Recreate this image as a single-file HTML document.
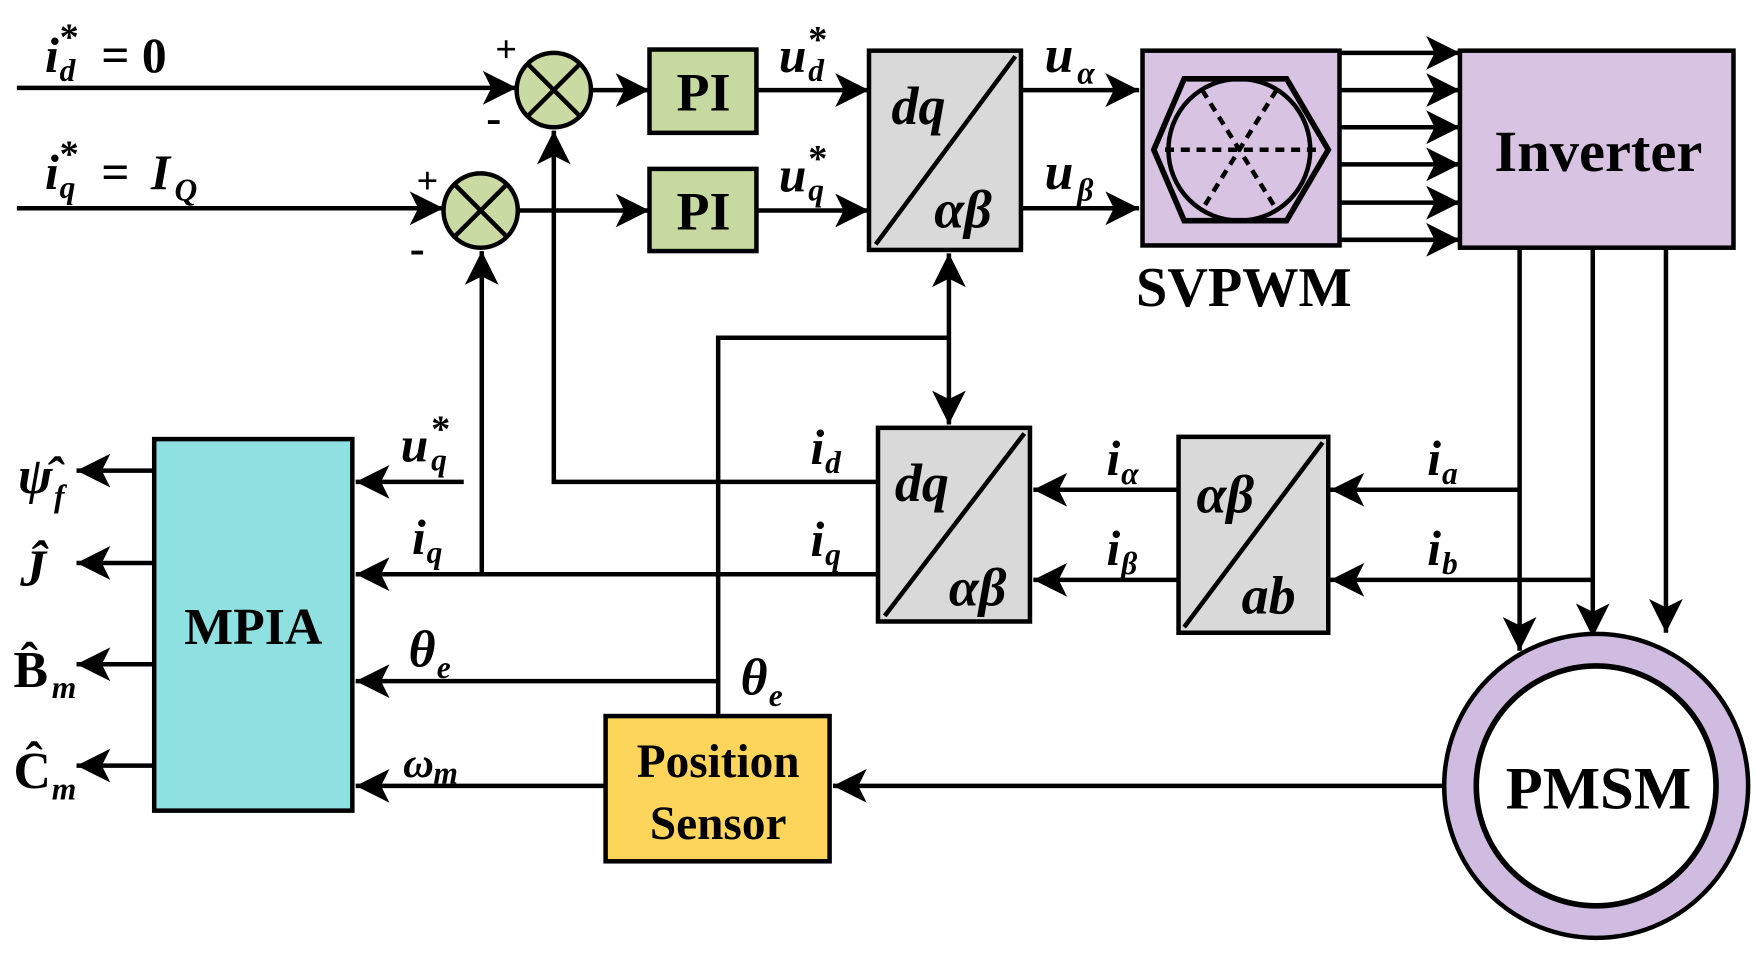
<!DOCTYPE html>
<html><head><meta charset="utf-8">
<style>
html,body{margin:0;padding:0;background:#fff;}
svg{display:block;}
text{font-family:"Liberation Serif",serif;font-weight:bold;fill:#000;}
.it{font-style:italic;}
</style></head>
<body>
<svg width="1756" height="957" viewBox="0 0 1560 850" preserveAspectRatio="none" xmlns="http://www.w3.org/2000/svg">
<defs>
<marker id="ar" viewBox="0 0 10 10" refX="10" refY="5" markerWidth="9" markerHeight="7.5" markerUnits="strokeWidth" orient="auto-start-reverse">
<path d="M0,0 L10,5 L0,10 L2.5,5 z" fill="#000"/>
</marker>
</defs>
<g stroke="#000" stroke-width="4" fill="none">
<line x1="15" y1="78" x2="459" y2="78" marker-end="url(#ar)"/>
<line x1="15" y1="185" x2="394" y2="185" marker-end="url(#ar)"/>
<circle cx="492" cy="80" r="33" fill="#c9dba3"/>
<line x1="469" y1="57" x2="515" y2="103"/><line x1="515" y1="57" x2="469" y2="103"/>
<circle cx="427" cy="187" r="33" fill="#c9dba3"/>
<line x1="404" y1="164" x2="450" y2="210"/><line x1="450" y1="164" x2="404" y2="210"/>
<line x1="525" y1="80" x2="577" y2="80" marker-end="url(#ar)"/>
<line x1="460" y1="187" x2="577" y2="187" marker-end="url(#ar)"/>
<rect x="577" y="44" width="95" height="74" fill="#c5d9a0"/>
<rect x="577" y="150" width="95" height="73" fill="#c5d9a0"/>
<line x1="672" y1="80" x2="772" y2="80" marker-end="url(#ar)"/>
<line x1="672" y1="187" x2="772" y2="187" marker-end="url(#ar)"/>
<rect x="772" y="45" width="135" height="177" fill="#d9d9d9"/>
<line x1="778" y1="217" x2="902" y2="50"/>
<line x1="907" y1="80" x2="1012" y2="80" marker-end="url(#ar)"/>
<line x1="907" y1="185" x2="1012" y2="185" marker-end="url(#ar)"/>
<rect x="1015" y="45" width="175" height="173" fill="#d8c4e2"/>
<polygon points="1052,70 1143,70 1180,133 1143,196 1052,196 1025,133" stroke-width="5"/>
<circle cx="1101" cy="133" r="63"/>
<g stroke-dasharray="8,6" stroke-width="4">
<line x1="1035" y1="133" x2="1170" y2="133"/>
<line x1="1068" y1="80" x2="1134" y2="186"/>
<line x1="1134" y1="80" x2="1068" y2="186"/>
</g>
<line x1="1190" y1="47" x2="1297" y2="47" marker-end="url(#ar)"/>
<line x1="1190" y1="80" x2="1297" y2="80" marker-end="url(#ar)"/>
<line x1="1190" y1="113" x2="1297" y2="113" marker-end="url(#ar)"/>
<line x1="1190" y1="146" x2="1297" y2="146" marker-end="url(#ar)"/>
<line x1="1190" y1="180" x2="1297" y2="180" marker-end="url(#ar)"/>
<line x1="1190" y1="213" x2="1297" y2="213" marker-end="url(#ar)"/>
<rect x="1297" y="45" width="243" height="175" fill="#d8c4e2"/>
<line x1="1350" y1="220" x2="1350" y2="578" marker-end="url(#ar)"/>
<line x1="1415" y1="220" x2="1415" y2="566" marker-end="url(#ar)"/>
<line x1="1480" y1="220" x2="1480" y2="562" marker-end="url(#ar)"/>
<circle cx="1418" cy="698" r="121" stroke="#000" stroke-width="32"/>
<circle cx="1418" cy="698" r="121" stroke="#d0bce0" stroke-width="24"/>
<circle cx="1418" cy="698" r="106" fill="#fff"/>
<line x1="1350" y1="435" x2="1182" y2="435" marker-end="url(#ar)"/>
<line x1="1415" y1="515" x2="1182" y2="515" marker-end="url(#ar)"/>
<rect x="1047" y="388" width="133" height="174" fill="#d9d9d9"/>
<line x1="1052" y1="557" x2="1175" y2="393"/>
<line x1="1047" y1="435" x2="918" y2="435" marker-end="url(#ar)"/>
<line x1="1047" y1="515" x2="918" y2="515" marker-end="url(#ar)"/>
<rect x="780" y="380" width="135" height="172" fill="#d9d9d9"/>
<line x1="786" y1="547" x2="910" y2="385"/>
<line x1="843" y1="225" x2="843" y2="377" marker-start="url(#ar)" marker-end="url(#ar)"/>
<polyline points="638,635 638,300 843,300"/>
<polyline points="780,428 492,428 492,116" marker-end="url(#ar)"/>
<line x1="780" y1="510" x2="316" y2="510" marker-end="url(#ar)"/>
<line x1="428" y1="510" x2="428" y2="223" marker-end="url(#ar)"/>
<line x1="412" y1="428" x2="316" y2="428" marker-end="url(#ar)"/>
<line x1="638" y1="605" x2="316" y2="605" marker-end="url(#ar)"/>
<line x1="538" y1="698" x2="316" y2="698" marker-end="url(#ar)"/>
<line x1="1283" y1="698" x2="740" y2="698" marker-end="url(#ar)"/>
<rect x="137" y="390" width="176" height="330" fill="#8fe0e0"/>
<line x1="137" y1="418" x2="68" y2="418" marker-end="url(#ar)"/>
<line x1="137" y1="500" x2="68" y2="500" marker-end="url(#ar)"/>
<line x1="137" y1="590" x2="68" y2="590" marker-end="url(#ar)"/>
<line x1="137" y1="680" x2="68" y2="680" marker-end="url(#ar)"/>
<rect x="538" y="636" width="199" height="129" fill="#fcd55a"/>
</g>
<g font-size="44">
<text x="40" y="64" class="it">i</text><text x="53" y="72" font-size="28" class="it">d</text><text x="53" y="44" font-size="34">*</text><text x="90" y="64">= 0</text>
<text x="40" y="168" class="it">i</text><text x="53" y="176" font-size="28" class="it">q</text><text x="53" y="148" font-size="34">*</text><text x="90" y="168">= </text><text x="134" y="168" class="it">I</text><text x="155" y="178" font-size="28" class="it">Q</text>
<text x="440" y="55" font-size="34">+</text><text x="432" y="118" font-size="40">-</text>
<text x="370" y="172" font-size="34">+</text><text x="364" y="234" font-size="40">-</text>
<text x="625" y="98" text-anchor="middle" font-size="48">PI</text><text x="625" y="204" text-anchor="middle" font-size="48">PI</text>
<text x="692" y="64" class="it">u</text><text x="718" y="72" font-size="28" class="it">d</text><text x="718" y="46" font-size="34">*</text>
<text x="692" y="170" class="it">u</text><text x="718" y="178" font-size="28" class="it">q</text><text x="718" y="152" font-size="34">*</text>
<text x="792" y="110" class="it" font-size="48">dq</text><text x="830" y="202" class="it" font-size="48">αβ</text>
<text x="928" y="64" class="it" font-size="46">u</text><text x="957" y="74" font-size="28" class="it">α</text>
<text x="928" y="168" class="it" font-size="46">u</text><text x="957" y="178" font-size="28" class="it">β</text>
<text x="1105" y="272" text-anchor="middle" font-size="50">SVPWM</text>
<text x="1420" y="152" text-anchor="middle" font-size="52">Inverter</text>
<text x="1420" y="718" text-anchor="middle" font-size="54">PMSM</text>
<text x="1268" y="422" class="it">i</text><text x="1281" y="430" font-size="28" class="it">a</text>
<text x="1268" y="502" class="it">i</text><text x="1281" y="510" font-size="28" class="it">b</text>
<text x="983" y="422" class="it">i</text><text x="996" y="430" font-size="28" class="it">α</text>
<text x="983" y="502" class="it">i</text><text x="996" y="510" font-size="28" class="it">β</text>
<text x="1063" y="455" class="it" font-size="48">αβ</text><text x="1103" y="545" class="it" font-size="48">ab</text>
<text x="795" y="445" class="it" font-size="48">dq</text><text x="843" y="538" class="it" font-size="48">αβ</text>
<text x="720" y="412" class="it">i</text><text x="733" y="420" font-size="28" class="it">d</text>
<text x="720" y="494" class="it">i</text><text x="733" y="502" font-size="28" class="it">q</text>
<text x="356" y="410" class="it">u</text><text x="383" y="418" font-size="28" class="it">q</text><text x="383" y="392" font-size="34">*</text>
<text x="366" y="492" class="it">i</text><text x="379" y="500" font-size="28" class="it">q</text>
<text x="363" y="592" class="it" font-size="46">θ</text><text x="388" y="602" font-size="28" class="it">e</text>
<text x="658" y="617" class="it" font-size="46">θ</text><text x="683" y="627" font-size="28" class="it">e</text>
<text x="358" y="690" class="it" font-size="38">ω</text><text x="385" y="696" font-size="28" class="it">m</text>
<text x="225" y="572" text-anchor="middle" font-size="46">MPIA</text>
<text x="638" y="690" text-anchor="middle" font-size="42">Position</text>
<text x="638" y="745" text-anchor="middle" font-size="42">Sensor</text>
<text x="16" y="438" class="it" font-size="46">ψ̂</text><text x="48" y="450" font-size="28" class="it">f</text>
<text x="18" y="520" class="it" font-size="46">Ĵ</text>
<text x="12" y="610" font-size="46">B̂</text><text x="46" y="620" font-size="28" class="it">m</text>
<text x="12" y="700" font-size="46">Ĉ</text><text x="46" y="710" font-size="28" class="it">m</text>
</g>
</svg>
</body></html>
